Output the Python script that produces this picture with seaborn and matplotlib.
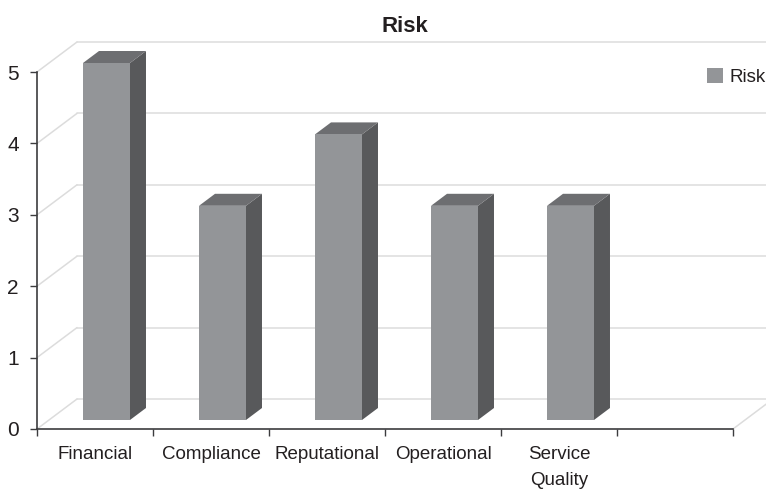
import numpy as np
import pandas as pd
import matplotlib
matplotlib.use("Agg")
import matplotlib.pyplot as plt
from matplotlib.lines import Line2D
from matplotlib.patches import Polygon
from matplotlib.transforms import Affine2D, IdentityTransform
import seaborn as sns

categories = ["Financial", "Compliance", "Reputational", "Operational", "Service\nQuality", " "]
risk = [5, 3, 4, 3, 3, np.nan]
y_ticks = [0, 1, 2, 3, 4, 5]

sns.set_style("white")
plt.rcParams['font.family'] = ['Liberation Sans', 'DejaVu Sans']
plt.rcParams['text.color'] = '#231f20'

W, H = 766, 491
FACE, SIDE, TOP = "#939598", "#58595b", "#6d6e71"
GRID, AXIS = "#dcdcdc", "#3c3c3e"
LABEL_SIZE = 13.5
# pixel offsets of the fake 3d
WALL_DX, WALL_DY = 40, 30
BAR_DX, BAR_DY = 11.5, 9
DEPTH_DX, DEPTH_DY = 16, 12

df = pd.DataFrame({"category": categories, "risk": risk})

fig = plt.figure(figsize=(W / 100, H / 100), dpi=100)
ax = fig.add_axes([37 / W, (H - 429) / H, 696 / W, 357 / H])
sns.barplot(data=df, x="category", y="risk", order=categories, color=FACE, saturation=1,
            width=0.405, linewidth=0, label="Risk", ax=ax)
ax.set_xlim(-0.5, 5.5)
ax.set_ylim(0, 5)
ax.set_xlabel("")
ax.set_ylabel("")
ax.patch.set_visible(False)

# back wall and floor lines
to_px = ax.transData.transform
wall = ax.transData + Affine2D().translate(WALL_DX, WALL_DY)
for v in y_ticks:
    ax.plot([-0.5, 5.5], [v, v], color=GRID, lw=1.1, transform=wall, clip_on=False, zorder=0.5)
    x0, y0 = to_px((-0.5, v))
    ax.add_line(Line2D([x0, x0 + WALL_DX], [y0, y0 + WALL_DY], color=GRID, lw=1.1,
                       transform=IdentityTransform(), clip_on=False, zorder=0.5))
x0, y0 = to_px((5.5, 0))
ax.add_line(Line2D([x0, x0 + WALL_DX], [y0, y0 + WALL_DY], color=GRID, lw=1.1,
                   transform=IdentityTransform(), clip_on=False, zorder=0.5))

# shift the bars off the axis and give them side and top faces
shift = ax.transData + Affine2D().translate(BAR_DX, BAR_DY)
for bar in list(ax.patches):
    if not bar.get_height() > 0:
        continue
    xa, ya = shift.transform((bar.get_x(), 0))
    xb, yb = shift.transform((bar.get_x() + bar.get_width(), bar.get_height()))
    bar.set_transform(shift)
    bar.set_clip_on(False)
    bar.set_zorder(3)
    side = [(xb, ya), (xb + DEPTH_DX, ya + DEPTH_DY), (xb + DEPTH_DX, yb + DEPTH_DY), (xb, yb)]
    top = [(xa, yb), (xa + DEPTH_DX, yb + DEPTH_DY), (xb + DEPTH_DX, yb + DEPTH_DY), (xb, yb)]
    ax.add_patch(Polygon(side, closed=True, fc=SIDE, ec="none", transform=IdentityTransform(),
                         clip_on=False, zorder=2))
    ax.add_patch(Polygon(top, closed=True, fc=TOP, ec="none", transform=IdentityTransform(),
                         clip_on=False, zorder=2))

sns.despine(ax=ax)
for s in ["left", "bottom"]:
    ax.spines[s].set_color(AXIS)
    ax.spines[s].set_linewidth(1.2)

ax.set_yticks(y_ticks)
ax.set_xticks(range(len(categories)))
ax.set_xticklabels(categories, linespacing=1.7)
ax.set_xticks(np.arange(-0.5, 6), minor=True)
ax.tick_params(axis="y", left=True, length=5, width=1, color=AXIS, pad=8, labelsize=LABEL_SIZE + 1.5, labelcolor="#231f20")
ax.tick_params(axis="x", which="major", bottom=False, length=0, pad=12, labelsize=LABEL_SIZE, labelcolor="#231f20")
ax.tick_params(axis="x", which="minor", bottom=True, length=5, width=1, color=AXIS)

fig.text(405 / W, (H - 26.5) / H, "Risk", ha="center", va="center", fontsize=16, fontweight="bold")
ax.legend(loc="center left", bbox_to_anchor=(707 / W, (H - 77) / H), bbox_transform=fig.transFigure,
          frameon=False, fontsize=LABEL_SIZE, handlelength=0.85, handleheight=0.85,
          handletextpad=0.37, borderpad=0, borderaxespad=0)

fig.savefig("out.png", dpi=100)
plt.close(fig)
